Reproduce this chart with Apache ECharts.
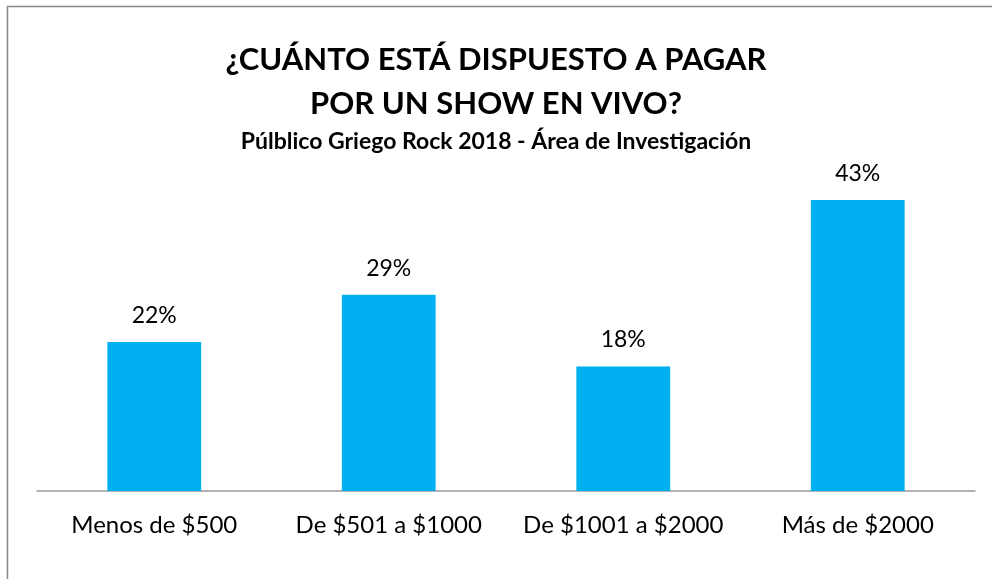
<!DOCTYPE html>
<html lang="es">
<head>
    <meta charset="UTF-8">
    <title>¿Cuánto está dispuesto a pagar?</title>
    <script src="https://cdn.jsdelivr.net/npm/echarts@6.0.0/dist/echarts.min.js"></script>
    <style>
        body { margin: 0; background: #fff; }
    </style>
</head>
<body>
    <div id="main" style="width: 992px;height:579px;"></div>
    <script type="text/javascript">
        // data (labels show rounded values)
        const categories = ['Menos de $500', 'De $501 a $1000', 'De $1001 a $2000', 'Más de $2000'];
        const percentages = [22, 29, 18.4, 43];

        const font = 'Lato';

        const myChart = echarts.init(document.getElementById('main'));

        const option = {
            backgroundColor: '#fff',
            animation: false,
            title: [{
                text: '¿CUÁNTO ESTÁ DISPUESTO A PAGAR\nPOR UN SHOW EN VIVO?',
                left: 'center',
                top: 33,
                textStyle: {
                    fontFamily: font,
                    fontWeight: 'bold',
                    fontSize: 31,
                    lineHeight: 44,
                    color: '#000'
                }
            }, {
                text: 'Púlblico Griego Rock 2018 - Área de Investigación',
                left: 'center',
                top: 125,
                textStyle: {
                    fontFamily: font,
                    fontWeight: 'bold',
                    fontSize: 23,
                    color: '#000'
                }
            }],
            graphic: [{
                type: 'rect',
                shape: { x: 7.5, y: 6.5, width: 1000, height: 600 },
                style: { fill: 'none', stroke: '#888', lineWidth: 1.5 }
            }],
            grid: {
                left: 37,
                right: 17,
                top: 152.5,
                bottom: 88,
                containLabel: false
            },
            xAxis: {
                type: 'category',
                data: categories,
                axisLine: { lineStyle: { color: '#999', width: 1.5 } },
                axisTick: { show: false },
                axisLabel: {
                    interval: 0,
                    fontFamily: font,
                    fontSize: 24,
                    color: '#000',
                    margin: 22
                }
            },
            yAxis: {
                type: 'value',
                min: 0,
                max: 50,
                show: false,
                splitLine: { show: false }
            },
            series: [{
                name: 'Porcentaje',
                type: 'bar',
                data: percentages,
                barWidth: '40%',
                itemStyle: { color: '#00B0F0' },
                label: {
                    show: true,
                    position: 'top',
                    distance: 15,
                    formatter: p => Math.round(p.value) + '%',
                    fontFamily: font,
                    fontSize: 23,
                    color: '#000'
                }
            }]
        };

        myChart.setOption(option);
    </script>
</body>
</html>
